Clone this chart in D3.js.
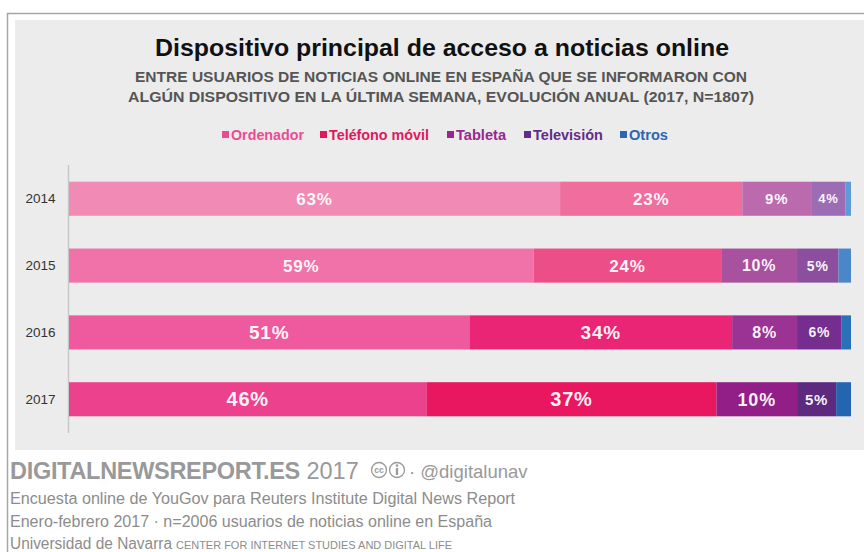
<!DOCTYPE html>
<html><head><meta charset="utf-8">
<script src="https://cdn.jsdelivr.net/npm/d3@7"></script>
<style>
html,body{margin:0;padding:0;background:#fff;}
svg{display:block;font-family:"Liberation Sans",Arial,sans-serif;}
</style></head>
<body><div id="chart"></div>
<script>
// ---- data ----
const years = ["2014", "2015", "2016", "2017"];
const series = ["Ordenador", "Teléfono móvil", "Tableta", "Televisión", "Otros"];
const ordenador = [62.8, 59.4, 51.2, 45.7];
const telefono  = [23.3, 24.0, 33.6, 37.1];
const tableta   = [8.8, 9.7, 8.3, 10.3];
const television= [4.4, 5.3, 5.7, 5.0];
const otros     = [0.7, 1.6, 1.2, 1.9];
const labels = [
  ["63%", "23%", "9%", "4%", ""],
  ["59%", "24%", "10%", "5%", ""],
  ["51%", "34%", "8%", "6%", ""],
  ["46%", "37%", "10%", "5%", ""]
];
// ---- style ----
const colors = [
  ["#f18bb6", "#ef6e9e", "#bb6aae", "#9c6db5", "#5c9bd6"],
  ["#f172a8", "#ec4f88", "#a8519f", "#8c4f9f", "#4a87c9"],
  ["#ee5a9d", "#eb2575", "#9a3394", "#752e8f", "#2870b8"],
  ["#ec418d", "#e9175f", "#921f87", "#5e2a80", "#2465b1"]
];
const labelSizes = [
  [17, 17, 15, 13],
  [17, 17, 16, 14],
  [19, 19, 16, 14],
  [20, 20, 18, 15]
];
const legendColors = ["#ec4a95", "#e0185f", "#9a2690", "#642b88", "#2c66b2"];

const W = 864, H = 552;
const svg = d3.select("#chart").append("svg").attr("width", W).attr("height", H);

// frame and panel
svg.append("rect").attr("x", 15).attr("y", 20).attr("width", W - 15).attr("height", 430).attr("fill", "#ececec");
svg.append("path").attr("d", `M7.5,${H} V13.5 H${W}`).attr("fill", "none").attr("stroke", "#a6a6a6").attr("stroke-width", 1.5);

// titles
svg.append("text").attr("x", 442).attr("y", 56).attr("text-anchor", "middle")
  .attr("font-size", 24).attr("font-weight", "bold").attr("fill", "#111")
  .attr("textLength", 574).attr("lengthAdjust", "spacingAndGlyphs")
  .text("Dispositivo principal de acceso a noticias online");
const sub = ["ENTRE USUARIOS DE NOTICIAS ONLINE EN ESPAÑA QUE SE INFORMARON CON",
             "ALGÚN DISPOSITIVO EN LA ÚLTIMA SEMANA, EVOLUCIÓN ANUAL (2017, N=1807)"];
const subW = [612, 626];
sub.forEach((s, i) => {
  svg.append("text").attr("x", 441).attr("y", 82 + i * 20).attr("text-anchor", "middle")
    .attr("font-size", 14).attr("font-weight", "bold").attr("fill", "#555")
    .attr("textLength", subW[i]).attr("lengthAdjust", "spacingAndGlyphs").text(s);
});

// legend
const legendX = [222, 320, 447, 524, 620];
const legendW = [73, 100, 50, 70, 39];
const lg = svg.append("g");
series.forEach((s, i) => {
  const g = lg.append("g").attr("transform", `translate(${legendX[i]},135)`);
  g.append("rect").attr("x", 0).attr("y", -4).attr("width", 7).attr("height", 7).attr("fill", legendColors[i]);
  g.append("text").attr("x", 9).attr("y", 5).attr("font-size", 14).attr("font-weight", "bold")
    .attr("textLength", legendW[i]).attr("lengthAdjust", "spacingAndGlyphs")
    .attr("fill", legendColors[i]).text(s);
});

// scales
const x = d3.scaleLinear().domain([0, 100]).range([69, 851]);
const y = d3.scaleBand().domain(years).range([165, 433]).paddingInner(0.49).paddingOuter(0.25);

// axis
const yAxis = svg.append("g").attr("transform", "translate(68.5,0)")
  .call(d3.axisLeft(y).tickSize(0).tickPadding(13));
yAxis.select(".domain").attr("stroke", "#c8c8c8").attr("stroke-width", 1.5).attr("d", "M0,165V433");
yAxis.selectAll("text").attr("font-size", 13.5).attr("fill", "#333")
  .attr("font-family", "'Liberation Sans',Arial,sans-serif");

// stacked bars
const table = years.map((yr, i) => ({
  year: yr, i,
  values: [ordenador[i], telefono[i], tableta[i], television[i], otros[i]]
}));
table.forEach(row => {
  let acc = 0;
  const g = svg.append("g");
  row.values.forEach((v, j) => {
    const x0 = x(acc), x1 = x(acc + v);
    acc += v;
    g.append("rect").attr("x", x0).attr("y", y(row.year)).attr("width", x1 - x0)
      .attr("height", y.bandwidth()).attr("fill", colors[row.i][j]);
    if (labels[row.i][j]) {
      g.append("text").attr("x", (x0 + x1) / 2).attr("y", y(row.year) + y.bandwidth() / 2)
        .attr("dy", "0.36em").attr("text-anchor", "middle")
        .attr("font-size", labelSizes[row.i][j]).attr("font-weight", "bold")
        .attr("letter-spacing", 0.8).attr("fill", "#fff").attr("fill-opacity", 0.95)
        .text(labels[row.i][j]);
    }
  });
});

// footer
const f1 = svg.append("text").attr("x", 10).attr("y", 479).attr("fill", "#999").attr("font-size", 23.5);
f1.append("tspan").attr("font-weight", "bold").attr("letter-spacing", -0.3).text("DIGITALNEWSREPORT.ES");
f1.append("tspan").text(" 2017");
// cc icons
const cc = svg.append("g").attr("fill", "none").attr("stroke", "#999").attr("stroke-width", 1.3);
cc.append("circle").attr("cx", 379).attr("cy", 470).attr("r", 7.5);
cc.append("text").attr("x", 379).attr("y", 473).attr("text-anchor", "middle").attr("font-size", 8.5)
  .attr("font-weight", "bold").attr("fill", "#999").attr("stroke", "none").text("cc");
cc.append("circle").attr("cx", 397).attr("cy", 470).attr("r", 7.5);
cc.append("circle").attr("cx", 397).attr("cy", 465.5).attr("r", 1.3).attr("fill", "#999").attr("stroke", "none");
cc.append("path").attr("d", "M397,468 V475").attr("stroke-width", 2.2);
svg.append("text").attr("x", 409).attr("y", 478).attr("fill", "#999").attr("font-size", 18.5)
  .text("· @digitalunav");

const footLines = [
  "Encuesta online de YouGov para Reuters Institute Digital News Report",
  "Enero-febrero 2017 · n=2006 usuarios de noticias online en España"
];
const footW = [505, 482];
footLines.forEach((t, i) => {
  svg.append("text").attr("x", 10).attr("y", 504 + i * 23).attr("fill", "#8c8c8c").attr("font-size", 16)
    .attr("textLength", footW[i]).attr("lengthAdjust", "spacingAndGlyphs").text(t);
});
const f4 = svg.append("text").attr("x", 10).attr("y", 549).attr("fill", "#8c8c8c");
f4.append("tspan").attr("font-size", 16).attr("textLength", 162).attr("lengthAdjust", "spacingAndGlyphs").text("Universidad de Navarra");
f4.append("tspan").attr("x", 176).attr("font-size", 10.5).attr("textLength", 276).attr("lengthAdjust", "spacingAndGlyphs")
  .text("CENTER FOR INTERNET STUDIES AND DIGITAL LIFE");
</script></body></html>
